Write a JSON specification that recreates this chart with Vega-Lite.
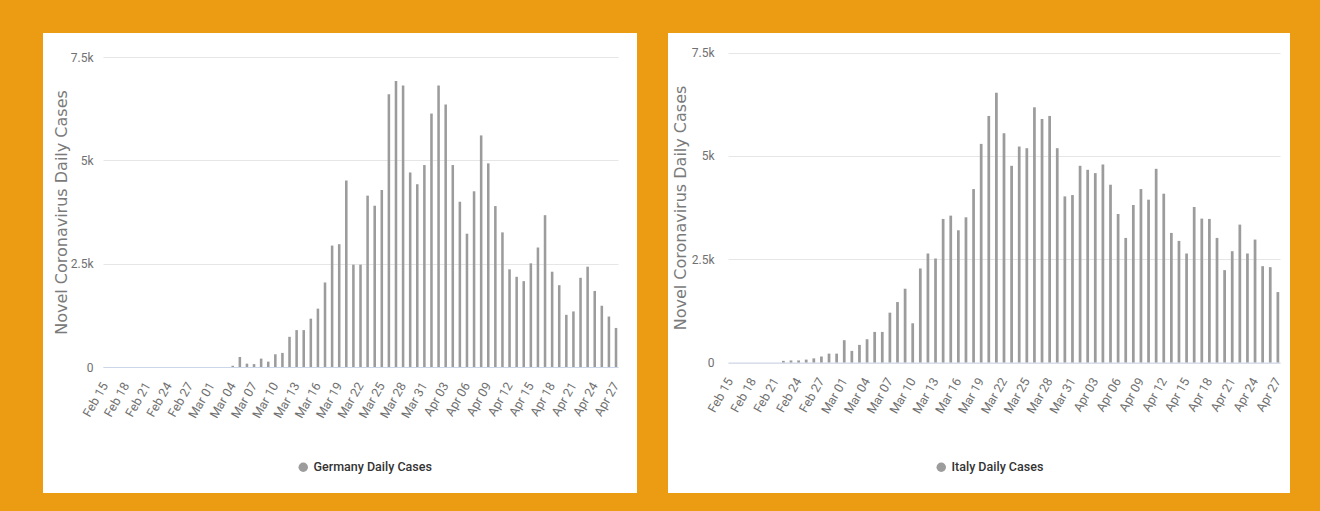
{
  "$schema": "https://vega.github.io/schema/vega-lite/v6.json",
  "background": "#EC9C12",
  "padding": {"left": 43, "top": 33, "right": 30, "bottom": 18},
  "spacing": 31,
  "config": {
    "view": {"fill": "white", "stroke": null},
    "axis": {
      "labelFont": "Roboto",
      "labelColor": "#707070",
      "labelFontSize": 12,
      "titleFont": "DejaVu Sans",
      "titleFontWeight": "normal",
      "titleFontSize": 16,
      "titleColor": "#7a7a7a",
      "gridColor": "#e6e6e6",
      "ticks": false
    },
    "legend": {
      "labelFont": "Roboto",
      "labelFontSize": 12.5,
      "labelFontWeight": 500,
      "labelColor": "#333333",
      "symbolType": "circle",
      "symbolSize": 90,
      "symbolStrokeWidth": 0
    }
  },
  "datasets": {
    "germany": [
      {"d": "Feb 15", "v": 0}, {"d": "Feb 16", "v": 0}, {"d": "Feb 17", "v": 0}, {"d": "Feb 18", "v": 0},
      {"d": "Feb 19", "v": 0}, {"d": "Feb 20", "v": 0}, {"d": "Feb 21", "v": 0}, {"d": "Feb 22", "v": 0},
      {"d": "Feb 23", "v": 0}, {"d": "Feb 24", "v": 0}, {"d": "Feb 25", "v": 0}, {"d": "Feb 26", "v": 0},
      {"d": "Feb 27", "v": 0}, {"d": "Feb 28", "v": 0}, {"d": "Feb 29", "v": 0},
      {"d": "Mar 01", "v": 0}, {"d": "Mar 02", "v": 0}, {"d": "Mar 03", "v": 0}, {"d": "Mar 04", "v": 30},
      {"d": "Mar 05", "v": 243}, {"d": "Mar 06", "v": 81}, {"d": "Mar 07", "v": 70}, {"d": "Mar 08", "v": 203},
      {"d": "Mar 09", "v": 130}, {"d": "Mar 10", "v": 308}, {"d": "Mar 11", "v": 341}, {"d": "Mar 12", "v": 730},
      {"d": "Mar 13", "v": 893}, {"d": "Mar 14", "v": 893}, {"d": "Mar 15", "v": 1169}, {"d": "Mar 16", "v": 1412},
      {"d": "Mar 17", "v": 2045}, {"d": "Mar 18", "v": 2938}, {"d": "Mar 19", "v": 2971}, {"d": "Mar 20", "v": 4512},
      {"d": "Mar 21", "v": 2476}, {"d": "Mar 22", "v": 2476}, {"d": "Mar 23", "v": 4146}, {"d": "Mar 24", "v": 3902},
      {"d": "Mar 25", "v": 4283}, {"d": "Mar 26", "v": 6596}, {"d": "Mar 27", "v": 6922}, {"d": "Mar 28", "v": 6808},
      {"d": "Mar 29", "v": 4707}, {"d": "Mar 30", "v": 4422}, {"d": "Mar 31", "v": 4886},
      {"d": "Apr 01", "v": 6132}, {"d": "Apr 02", "v": 6808}, {"d": "Apr 03", "v": 6352}, {"d": "Apr 04", "v": 4886},
      {"d": "Apr 05", "v": 3998}, {"d": "Apr 06", "v": 3225}, {"d": "Apr 07", "v": 4251}, {"d": "Apr 08", "v": 5603},
      {"d": "Apr 09", "v": 4927}, {"d": "Apr 10", "v": 3893}, {"d": "Apr 11", "v": 3257}, {"d": "Apr 12", "v": 2362},
      {"d": "Apr 13", "v": 2182}, {"d": "Apr 14", "v": 2077}, {"d": "Apr 15", "v": 2508}, {"d": "Apr 16", "v": 2891},
      {"d": "Apr 17", "v": 3673}, {"d": "Apr 18", "v": 2305}, {"d": "Apr 19", "v": 1979}, {"d": "Apr 20", "v": 1262},
      {"d": "Apr 21", "v": 1344}, {"d": "Apr 22", "v": 2158}, {"d": "Apr 23", "v": 2427}, {"d": "Apr 24", "v": 1840},
      {"d": "Apr 25", "v": 1482}, {"d": "Apr 26", "v": 1221}, {"d": "Apr 27", "v": 945}
    ],
    "italy": [
      {"d": "Feb 15", "v": 0}, {"d": "Feb 16", "v": 0}, {"d": "Feb 17", "v": 0}, {"d": "Feb 18", "v": 0},
      {"d": "Feb 19", "v": 0}, {"d": "Feb 20", "v": 0}, {"d": "Feb 21", "v": 0}, {"d": "Feb 22", "v": 40},
      {"d": "Feb 23", "v": 50}, {"d": "Feb 24", "v": 50}, {"d": "Feb 25", "v": 70}, {"d": "Feb 26", "v": 100},
      {"d": "Feb 27", "v": 145}, {"d": "Feb 28", "v": 215}, {"d": "Feb 29", "v": 215},
      {"d": "Mar 01", "v": 540}, {"d": "Mar 02", "v": 281}, {"d": "Mar 03", "v": 426}, {"d": "Mar 04", "v": 563},
      {"d": "Mar 05", "v": 740}, {"d": "Mar 06", "v": 740}, {"d": "Mar 07", "v": 1206}, {"d": "Mar 08", "v": 1463},
      {"d": "Mar 09", "v": 1785}, {"d": "Mar 10", "v": 949}, {"d": "Mar 11", "v": 2275}, {"d": "Mar 12", "v": 2637},
      {"d": "Mar 13", "v": 2516}, {"d": "Mar 14", "v": 3473}, {"d": "Mar 15", "v": 3553}, {"d": "Mar 16", "v": 3199},
      {"d": "Mar 17", "v": 3513}, {"d": "Mar 18", "v": 4196}, {"d": "Mar 19", "v": 5289}, {"d": "Mar 20", "v": 5965},
      {"d": "Mar 21", "v": 6527}, {"d": "Mar 22", "v": 5547}, {"d": "Mar 23", "v": 4759}, {"d": "Mar 24", "v": 5225},
      {"d": "Mar 25", "v": 5185}, {"d": "Mar 26", "v": 6174}, {"d": "Mar 27", "v": 5892}, {"d": "Mar 28", "v": 5965},
      {"d": "Mar 29", "v": 5185}, {"d": "Mar 30", "v": 4019}, {"d": "Mar 31", "v": 4051},
      {"d": "Apr 01", "v": 4759}, {"d": "Apr 02", "v": 4662}, {"d": "Apr 03", "v": 4582}, {"d": "Apr 04", "v": 4791},
      {"d": "Apr 05", "v": 4301}, {"d": "Apr 06", "v": 3593}, {"d": "Apr 07", "v": 3014}, {"d": "Apr 08", "v": 3810},
      {"d": "Apr 09", "v": 4196}, {"d": "Apr 10", "v": 3939}, {"d": "Apr 11", "v": 4686}, {"d": "Apr 12", "v": 4084},
      {"d": "Apr 13", "v": 3135}, {"d": "Apr 14", "v": 2942}, {"d": "Apr 15", "v": 2637}, {"d": "Apr 16", "v": 3762},
      {"d": "Apr 17", "v": 3481}, {"d": "Apr 18", "v": 3473}, {"d": "Apr 19", "v": 3014}, {"d": "Apr 20", "v": 2235},
      {"d": "Apr 21", "v": 2693}, {"d": "Apr 22", "v": 3336}, {"d": "Apr 23", "v": 2637}, {"d": "Apr 24", "v": 2974},
      {"d": "Apr 25", "v": 2331}, {"d": "Apr 26", "v": 2307}, {"d": "Apr 27", "v": 1704}
    ]
  },
  "resolve": {
    "scale": {"x": "independent", "y": "independent", "color": "independent"},
    "legend": {"color": "independent"}
  },
  "hconcat": [
    {
      "width": 594,
      "height": 460,
      "data": {"name": "germany"},
      "mark": {"type": "bar"},
      "encoding": {
        "x": {
          "field": "d", "type": "ordinal", "sort": null,
          "scale": {"range": [60, 575], "paddingInner": 0.64, "paddingOuter": 0.1},
          "axis": {
            "title": null, "offset": -126, "labelAngle": -60, "labelPadding": 16, "labelFontSize": 12.5,
            "labelOverlap": false, "grid": false, "domainColor": "#ccd6eb",
            "values": ["Feb 15","Feb 18","Feb 21","Feb 24","Feb 27","Mar 01","Mar 04","Mar 07","Mar 10","Mar 13","Mar 16","Mar 19","Mar 22","Mar 25","Mar 28","Mar 31","Apr 03","Apr 06","Apr 09","Apr 12","Apr 15","Apr 18","Apr 21","Apr 24","Apr 27"]
          }
        },
        "y": {
          "field": "v", "type": "quantitative",
          "scale": {"domain": [0, 7500], "range": [334, 24], "nice": false},
          "axis": {
            "title": "Novel Coronavirus Daily Cases", "offset": -61, "domain": false, "grid": true,
            "values": [0, 2500, 5000, 7500], "labelPadding": 11,
            "labelExpr": "datum.value == 0 ? '0' : format(datum.value / 1000, '.1~f') + 'k'",
            "titleX": -43, "titleY": 179, "titleAngle": 270, "titleAlign": "center", "titleBaseline": "middle"
          }
        },
        "color": {
          "datum": "Germany Daily Cases", "type": "nominal",
          "scale": {"range": ["#9c9c9c"]},
          "legend": {"title": null, "orient": "none", "legendX": 254, "legendY": 428}
        }
      }
    },
    {
      "width": 622,
      "height": 460,
      "data": {"name": "italy"},
      "mark": {"type": "bar"},
      "encoding": {
        "x": {
          "field": "d", "type": "ordinal", "sort": null,
          "scale": {"range": [60, 612], "paddingInner": 0.64, "paddingOuter": 0.1},
          "axis": {
            "title": null, "offset": -130.5, "labelAngle": -60, "labelPadding": 16, "labelFontSize": 12.5,
            "labelOverlap": false, "grid": false, "domainColor": "#ccd6eb",
            "values": ["Feb 15","Feb 18","Feb 21","Feb 24","Feb 27","Mar 01","Mar 04","Mar 07","Mar 10","Mar 13","Mar 16","Mar 19","Mar 22","Mar 25","Mar 28","Mar 31","Apr 03","Apr 06","Apr 09","Apr 12","Apr 15","Apr 18","Apr 21","Apr 24","Apr 27"]
          }
        },
        "y": {
          "field": "v", "type": "quantitative",
          "scale": {"domain": [0, 7500], "range": [329.5, 19.5], "nice": false},
          "axis": {
            "title": "Novel Coronavirus Daily Cases", "offset": -60, "domain": false, "grid": true,
            "values": [0, 2500, 5000, 7500], "labelPadding": 14,
            "labelExpr": "datum.value == 0 ? '0' : format(datum.value / 1000, '.1~f') + 'k'",
            "titleX": -48, "titleY": 174.5, "titleAngle": 270, "titleAlign": "center", "titleBaseline": "middle"
          }
        },
        "color": {
          "datum": "Italy Daily Cases", "type": "nominal",
          "scale": {"range": ["#9c9c9c"]},
          "legend": {"title": null, "orient": "none", "legendX": 267, "legendY": 428}
        }
      }
    }
  ]
}
